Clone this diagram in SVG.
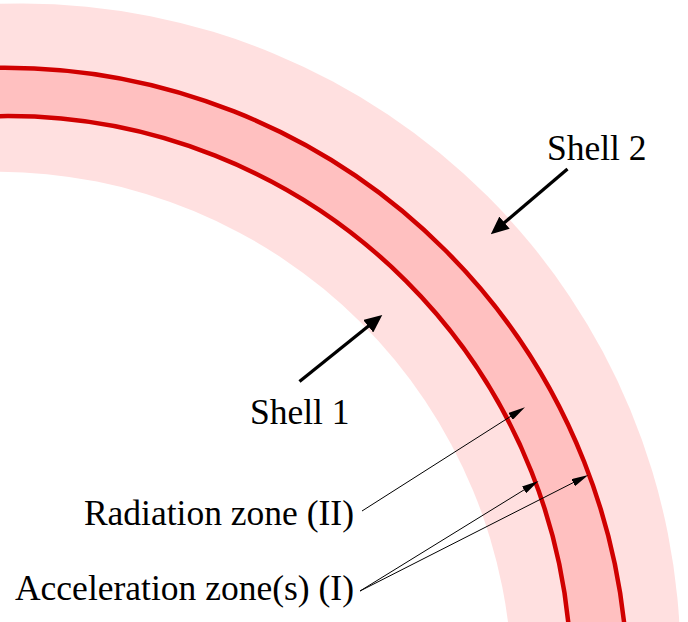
<svg xmlns="http://www.w3.org/2000/svg" width="688" height="622" viewBox="0 0 688 622">
  <style>
    .light { fill: #FFE0E0; stroke: none; }
    .dark { fill: #FFC0C0; stroke: none; }
    .hole { fill: #FFFFFF; stroke: none; }
    .red { fill: none; stroke: #D00000; stroke-width: 4.5; }
    .thick { stroke: #000000; stroke-width: 3.3; fill: none; }
    .thin { stroke: #000000; stroke-width: 1; fill: none; }
    .label { font-size: 35.5px; fill: #000000; }
  </style>
  <defs>
    <marker id="headBig" markerUnits="userSpaceOnUse" viewBox="0 0 18 16" refX="10" refY="8" markerWidth="18" markerHeight="16" orient="auto">
      <path d="M0,0 L18,8 L0,16 z" fill="#000000"/>
    </marker>
    <marker id="headSmall" markerUnits="userSpaceOnUse" viewBox="0 0 17 8" refX="11" refY="4" markerWidth="17" markerHeight="8" orient="auto">
      <path d="M0,0 L17,4 L0,8 z" fill="#000000"/>
    </marker>
  </defs>
  <rect x="0" y="0" width="688" height="622" fill="#FFFFFF"/>
  <g id="shells">
    <circle class="light" cx="22" cy="662" r="658.5"/>
    <circle class="dark" cx="4.6" cy="690.9" r="623.2"/>
    <circle class="light" cx="7.9" cy="679.3" r="563.2"/>
    <circle class="hole" cx="-3.8" cy="687.7" r="516"/>
    <circle class="red" cx="4.6" cy="690.9" r="623.2"/>
    <circle class="red" cx="7.9" cy="679.3" r="563.2"/>
  </g>
  <g id="connectors">
    <line class="thick" x1="567.5" y1="169" x2="496.9" y2="229.1" marker-end="url(#headBig)"/>
    <line class="thick" x1="299.5" y1="381.5" x2="376.0" y2="320.0" marker-end="url(#headBig)"/>
    <line class="thin" x1="362" y1="511" x2="519.9" y2="410.5" marker-end="url(#headSmall)"/>
    <line class="thin" x1="360" y1="591" x2="533.4" y2="484.1" marker-end="url(#headSmall)"/>
    <line class="thin" x1="360" y1="591" x2="582.95" y2="477.7" marker-end="url(#headSmall)"/>
  </g>
  <g id="label-shell2"><text class="label" font-family="'Liberation Serif', 'Times New Roman', 'DejaVu Serif', serif" x="547" y="160">Shell 2</text></g>
  <g id="label-shell1"><text class="label" font-family="'Liberation Serif', 'Times New Roman', 'DejaVu Serif', serif" x="250" y="424">Shell 1</text></g>
  <g id="label-radiation"><text class="label" font-family="'Liberation Serif', 'Times New Roman', 'DejaVu Serif', serif" x="354" y="525" text-anchor="end">Radiation zone (II)</text></g>
  <g id="label-acceleration"><text class="label" font-family="'Liberation Serif', 'Times New Roman', 'DejaVu Serif', serif" x="354" y="600" text-anchor="end">Acceleration zone(s) (I)</text></g>
</svg>
